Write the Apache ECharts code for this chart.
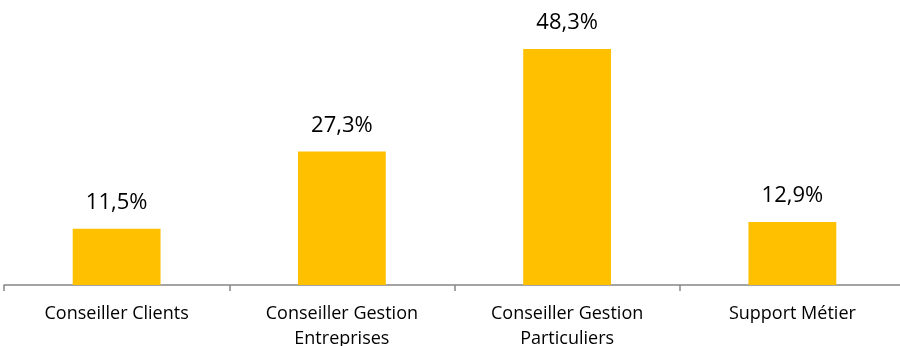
<!DOCTYPE html>
<html>
<head>
<meta charset="utf-8">
<script src="https://cdn.jsdelivr.net/npm/echarts@6/dist/echarts.min.js"></script>
<style>html,body{margin:0;padding:0;background:#fff}#c{width:900px;height:346px}</style>
</head>
<body>
<div id="c"></div>
<script>
const categories = ['Conseiller Clients', 'Conseiller Gestion\nEntreprises', 'Conseiller Gestion\nParticuliers', 'Support Métier'];
const values = [11.5, 27.3, 48.3, 12.9];

const chart = echarts.init(document.getElementById('c'), null, {renderer: 'canvas'});
chart.setOption({
  animation: false,
  grid: {left: 4, width: 901, top: 40.7, bottom: 61, containLabel: false, outerBoundsMode: 'none'},
  xAxis: {
    type: 'category',
    data: categories,
    axisLine: {lineStyle: {color: '#868686', width: 1.5}},
    axisTick: {show: true, length: 6, lineStyle: {color: '#868686', width: 1.5}},
    axisLabel: {color: '#000', fontFamily: 'Open Sans', fontSize: 18, margin: 16, lineHeight: 25}
  },
  yAxis: {
    type: 'value', min: 0, max: 50, show: false, splitLine: {show: false}
  },
  series: [{
    type: 'bar',
    data: values,
    barWidth: '39%',
    itemStyle: {color: '#FFC000'},
    label: {
      show: true, position: 'top', distance: 15,
      color: '#000', fontFamily: 'Open Sans', fontSize: 22,
      formatter: p => p.value.toFixed(1).replace('.', ',') + '%'
    }
  }]
});
</script>
</body>
</html>
